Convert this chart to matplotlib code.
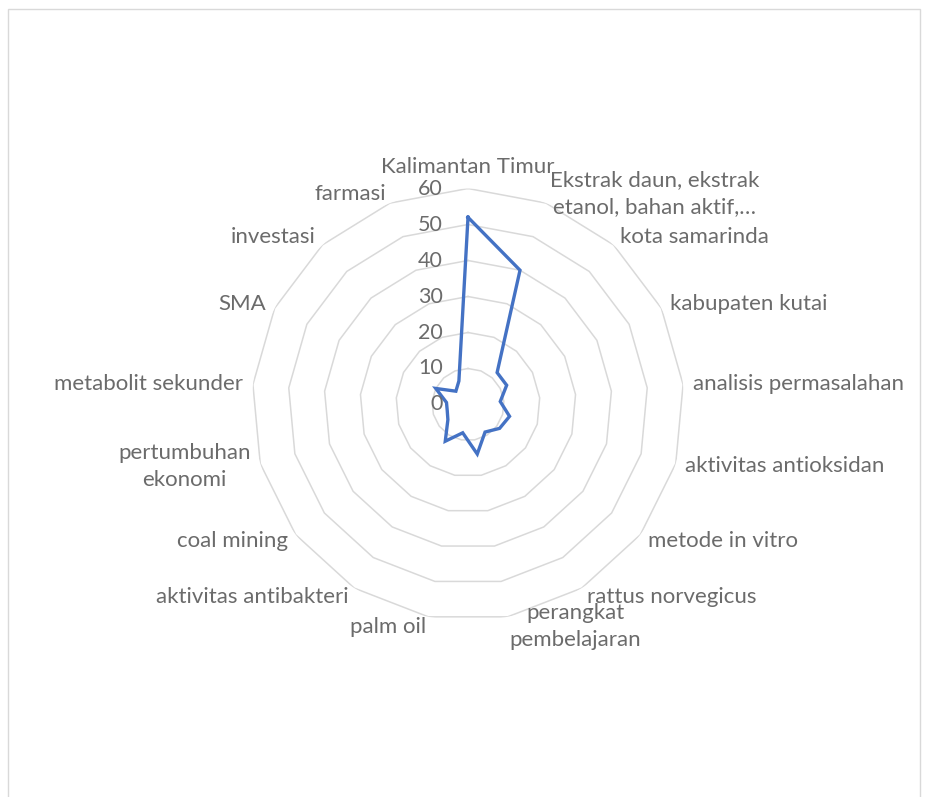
import numpy as np
import matplotlib
matplotlib.use('Agg')
import matplotlib.pyplot as plt
from matplotlib.patches import Rectangle

categories = ['Kalimantan Timur', 'Ekstrak daun, ekstrak\netanol, bahan aktif,…', 'kota samarinda',
              'kabupaten kutai', 'analisis permasalahan', 'aktivitas antioksidan', 'metode in vitro',
              'rattus norvegicus', 'perangkat\npembelajaran', 'palm oil', 'aktivitas antibakteri',
              'coal mining', 'pertumbuhan\nekonomi', 'metabolit sekunder', 'SMA', 'investasi', 'farmasi']
values = [52, 40, 12, 12, 9, 12, 11, 9, 14, 8, 12, 7, 6, 6, 10, 5, 7]
rings = [0, 10, 20, 30, 40, 50, 60]

plt.rcParams['font.family'] = ['Lato', 'DejaVu Sans']
txt = '#6b6b6b'
grid = '#d9d9d9'

W, H = 928, 797
fig = plt.figure(figsize=(W / 100, H / 100), dpi=100)

# chart area border (bottom edge runs off the picture)
fig.patches.append(Rectangle((8.5 / W, -0.05), 912 / W, 1.05 - 8.5 / H, transform=fig.transFigure,
                             fill=False, ec=grid, lw=1))

cx, cy, rad = 468, 797 - 404.5, 216
ax = fig.add_axes([(cx - rad) / W, (cy - rad) / H, 2 * rad / W, 2 * rad / H], projection='polar')
ax.set_theta_zero_location('N')
ax.set_theta_direction(-1)
ax.set_ylim(0, 60)
ax.grid(False)
ax.spines['polar'].set_visible(False)
ax.set_xticks([])
ax.set_yticks([])
ax.patch.set_visible(False)

n = len(categories)
ang = np.linspace(0, 2 * np.pi, n, endpoint=False)
ang_c = np.append(ang, ang[0])

for r in rings[1:]:
    ax.plot(ang_c, [r] * (n + 1), color=grid, lw=1.1, zorder=1)

ax.plot(ang_c, values + values[:1], color='#4472C4', lw=2.4, zorder=3, solid_joinstyle='miter')

for r in rings:
    ax.annotate(str(r), (0, r), xytext=(-25, 0), textcoords='offset pixels',
                ha='right', va='center', fontsize=15.5, color=txt)

pad = 10
for a, lab in zip(ang, categories):
    s, c = np.sin(a), np.cos(a)
    if abs(s) < 0.05:
        ha, va = 'center', 'bottom'
        off = (0, 12)
    else:
        ha = 'left' if s > 0 else 'right'
        va = 'center'
        off = (pad * s, pad * c)
    ax.annotate(lab, (a, 60), xytext=off, textcoords='offset pixels', ha=ha, va=va,
                multialignment='center', fontsize=16, color=txt, linespacing=1.45)

fig.savefig('out.png', dpi=100)
